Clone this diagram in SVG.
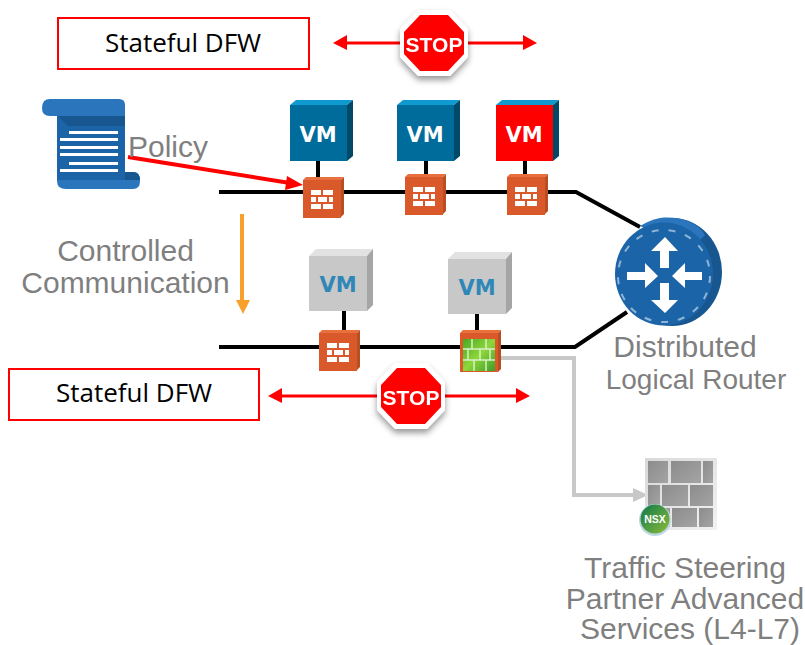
<svg xmlns="http://www.w3.org/2000/svg" width="805" height="645" viewBox="0 0 805 645">
<style>
text{font-family:"Liberation Sans",Arial,sans-serif}
.g{fill:#7f7f7f;font-size:30px}
.box{fill:#fff;stroke:#f00;stroke-width:2}
.boxt{fill:#000;font-size:26px;font-family:"Open Sans","Noto Sans",sans-serif;text-anchor:middle}
.net{fill:none;stroke:#000;stroke-width:4}
.vmt{font-size:21px;font-weight:bold;text-anchor:middle;font-family:"DejaVu Sans",sans-serif}
.brick{fill:url(#wall)}
</style>
<defs>
<filter id="sh" x="-30%" y="-30%" width="160%" height="170%"><feDropShadow dx="0" dy="4" stdDeviation="3" flood-color="#000" flood-opacity=".4"/></filter>
<linearGradient id="wall" x1="0" y1="0" x2="1" y2="1"><stop offset="0" stop-color="#8c8c8c"/><stop offset="1" stop-color="#a4a4a4"/></linearGradient>
<linearGradient id="frame" x1="0" y1="0" x2="1" y2="1"><stop offset="0" stop-color="#d8d8d8"/><stop offset="1" stop-color="#f2f2f2"/></linearGradient>
<linearGradient id="nsx" x1="0" y1="0" x2="1" y2="1"><stop offset="0" stop-color="#0e7a4a"/><stop offset="1" stop-color="#8dbb3a"/></linearGradient>
<linearGradient id="grn" x1="0" y1="0" x2="1" y2="1"><stop offset="0" stop-color="#46a822"/><stop offset=".5" stop-color="#8ed63a"/><stop offset="1" stop-color="#3d9c2a"/></linearGradient>
<g id="fw">
<polygon points="0,3 3,0 41,0 38,3" fill="#e8703e"/>
<polygon points="38,3 41,0 41,37 38,40" fill="#b84e22"/>
<rect x="0" y="3" width="38" height="38" fill="#d9592a"/>
<g fill="#fff"><rect x="8" y="13" width="10" height="5"/><rect x="20" y="13" width="10" height="5"/><rect x="8" y="20" width="5" height="5"/><rect x="15" y="20" width="9" height="5"/><rect x="26" y="20" width="4" height="5"/><rect x="8" y="27" width="10" height="5"/><rect x="20" y="27" width="10" height="5"/></g>
</g>
<g id="stop" filter="url(#sh)">
<polygon points="-16,-33 16,-33 34,-14 34,14 16,33 -16,33 -34,14 -34,-14" fill="#fff"/>
<polygon points="-14,-28 14,-28 30,-11 30,11 14,28 -14,28 -30,11 -30,-11" fill="#f00"/>
<text y="9" text-anchor="middle" font-size="21" font-weight="bold" fill="#fff">STOP</text>
</g>
<g id="vmb"><polygon points="0,5 6,0 63,0 57,5" fill="#0f9ad0"/><polygon points="57,5 63,0 63,56 57,61" fill="#004a68"/><rect y="5" width="57" height="56" fill="#006c9c"/><text x="28" y="42" class="vmt" fill="#fff">VM</text></g>
<g id="vmg"><polygon points="0,7 7,0 64,0 58,7" fill="#e2e2e2"/><polygon points="58,7 64,0 64,56 58,62" fill="#a5a5a5"/><rect y="7" width="58" height="55" fill="#c8c8c8"/><text x="29" y="43" class="vmt" fill="#2f87b8">VM</text></g>
</defs>

<g id="connectors">
<path class="net" d="M219 192H576L640 227"/>
<path class="net" d="M219 347H575L627 312"/>
<path class="net" d="M318 160V180M426 160V180M525 160V180M344 310V332M477 314V332"/>
<path d="M501 358H574V495H636" fill="none" stroke="#c8c8c8" stroke-width="4"/>
<polygon points="633,488 648,495 633,502" fill="#c8c8c8"/>
<path d="M128 157L290 183" stroke="#f00" stroke-width="4" fill="none"/>
<polygon points="303,185 287,176 285,190" fill="#f00"/>
<path d="M242 214V302" stroke="#f7a12c" stroke-width="4" fill="none"/>
<polygon points="236,300 250,300 243,314" fill="#f7a12c"/>
<path d="M345 43H404M466 43H525" stroke="#f00" stroke-width="3"/>
<polygon points="333,43 347,35 347,50" fill="#f00"/><polygon points="537,43 523,35 523,50" fill="#f00"/>
<path d="M280 396H382M442 396H518" stroke="#f00" stroke-width="3"/>
<polygon points="268,396 282,388 282,403" fill="#f00"/><polygon points="530,396 516,388 516,403" fill="#f00"/>
</g>

<g id="dfw-top"><rect class="box" x="58" y="18" width="251" height="51"/><text class="boxt" x="183" y="52">Stateful DFW</text></g>
<g id="dfw-bottom"><rect class="box" x="9" y="369" width="250" height="51"/><text class="boxt" x="134" y="402">Stateful DFW</text></g>
<g id="stop-top"><use href="#stop" x="434" y="43"/></g>
<g id="stop-bottom"><use href="#stop" x="411" y="396"/></g>

<g id="policy">
<path d="M65 99H119Q125 99 125 105V172H133Q140 172 140 181Q140 189 133 189H66Q57 189 57 181V116H50Q42 116 42 108Q42 99 50 99Z" fill="#2a75bb"/>
<path d="M57 116H125V180H57Z" fill="#1b64a8"/>
<polygon points="58,116 125,116 125,126 68,126" fill="#17568f"/>
<path d="M125 172H133Q140 172 140 180H125Z" fill="#17568f"/>
<g fill="#fff"><rect x="69" y="131" width="49" height="3"/><rect x="60" y="138" width="58" height="3"/><rect x="60" y="146" width="58" height="3"/><rect x="60" y="153" width="58" height="3"/><rect x="69" y="162" width="49" height="3"/><rect x="60" y="169" width="58" height="3"/></g>
<text class="g" x="128" y="157">Policy</text>
</g>
<text id="controlled" class="g" x="125.500" y="261" text-anchor="middle">Controlled<tspan x="125.500" y="293">Communication</tspan></text>

<g id="vm1"><use href="#vmb" x="290" y="100"/></g>
<g id="vm2"><use href="#vmb" x="397" y="100"/></g>
<g id="vm3"><polygon points="496,105 502,100 559,100 553,105" fill="#0f9ad0"/><polygon points="553,105 559,100 559,156 553,161" fill="#004a68"/><rect x="496" y="105" width="57" height="56" fill="#f00"/><text x="524" y="142" class="vmt" fill="#fff">VM</text></g>
<g id="vm4"><use href="#vmg" x="309" y="249"/></g>
<g id="vm5"><use href="#vmg" x="448" y="252"/></g>

<g id="fw1"><use href="#fw" x="303" y="177"/></g>
<g id="fw2"><use href="#fw" x="405" y="174"/></g>
<g id="fw3"><use href="#fw" x="507" y="174"/></g>
<g id="fw4"><use href="#fw" x="319" y="330"/></g>
<g id="fw5">
<polygon points="460,333 463,330 501,330 498,333" fill="#e8703e"/><polygon points="498,333 501,330 501,369 498,372" fill="#b84e22"/><rect x="460" y="333" width="38" height="39" fill="#d9592a"/>
<rect x="463" y="339" width="32" height="32" fill="url(#grn)"/>
<path d="M463 349H495M463 360H495M472 339V349M486 339V349M468 349V360M480 349V360M490 349V360M474 360V371M486 360V371" stroke="#d8f0c8" stroke-width="1.500" fill="none"/>
</g>

<g id="router">
<ellipse cx="672" cy="272" rx="50" ry="54" fill="#17568f"/>
<path d="M660 218C680 216 697 222 705 235L690 250L640 226Q650 220 660 218Z" fill="#2a75bb"/>
<ellipse cx="664" cy="274" rx="49" ry="51.500" fill="#1b64a8"/>
<circle cx="664" cy="276" r="46" fill="none" stroke="#8fb4d6" stroke-width="2" stroke-dasharray="7 10"/>
<g fill="#fff">
<path d="M665 237L651 251H660V268H669V251H678Z"/>
<path d="M665 313L651 300H660V283H669V300H678Z"/>
<path d="M658 276L645 263V272H627V280H645V288Z"/>
<path d="M672 276L685 263V272H702V280H685V288Z"/>
</g>
<text class="g" x="685" y="357" text-anchor="middle">Distributed</text>
<text class="g" x="696" y="389" text-anchor="middle" style="font-size:28px">Logical Router</text>
</g>

<g id="partner">
<rect x="645" y="458" width="72" height="72" fill="url(#frame)"/>
<rect class="brick" x="648" y="461" width="20" height="22"/><rect class="brick" x="671" y="461" width="30" height="22"/><rect class="brick" x="703" y="461" width="10" height="22"/>
<rect class="brick" x="648" y="485" width="12" height="21"/><rect class="brick" x="662" y="485" width="26" height="21"/><rect class="brick" x="690" y="485" width="23" height="21"/>
<rect class="brick" x="648" y="508" width="22" height="19"/><rect class="brick" x="672" y="508" width="25" height="19"/><rect class="brick" x="699" y="508" width="14" height="19"/>
<circle cx="655" cy="520" r="16" fill="#bcd8e6"/>
<circle cx="655" cy="519" r="14.500" fill="url(#nsx)"/>
<text x="655" y="523" text-anchor="middle" font-size="10.500" font-weight="bold" fill="#fff">NSX</text>
<text class="g" x="685" y="578" text-anchor="middle">Traffic Steering</text>
<text class="g" x="685" y="609" text-anchor="middle">Partner Advanced</text>
<text class="g" x="690" y="639" text-anchor="middle">Services (L4-L7)</text>
</g>
</svg>
